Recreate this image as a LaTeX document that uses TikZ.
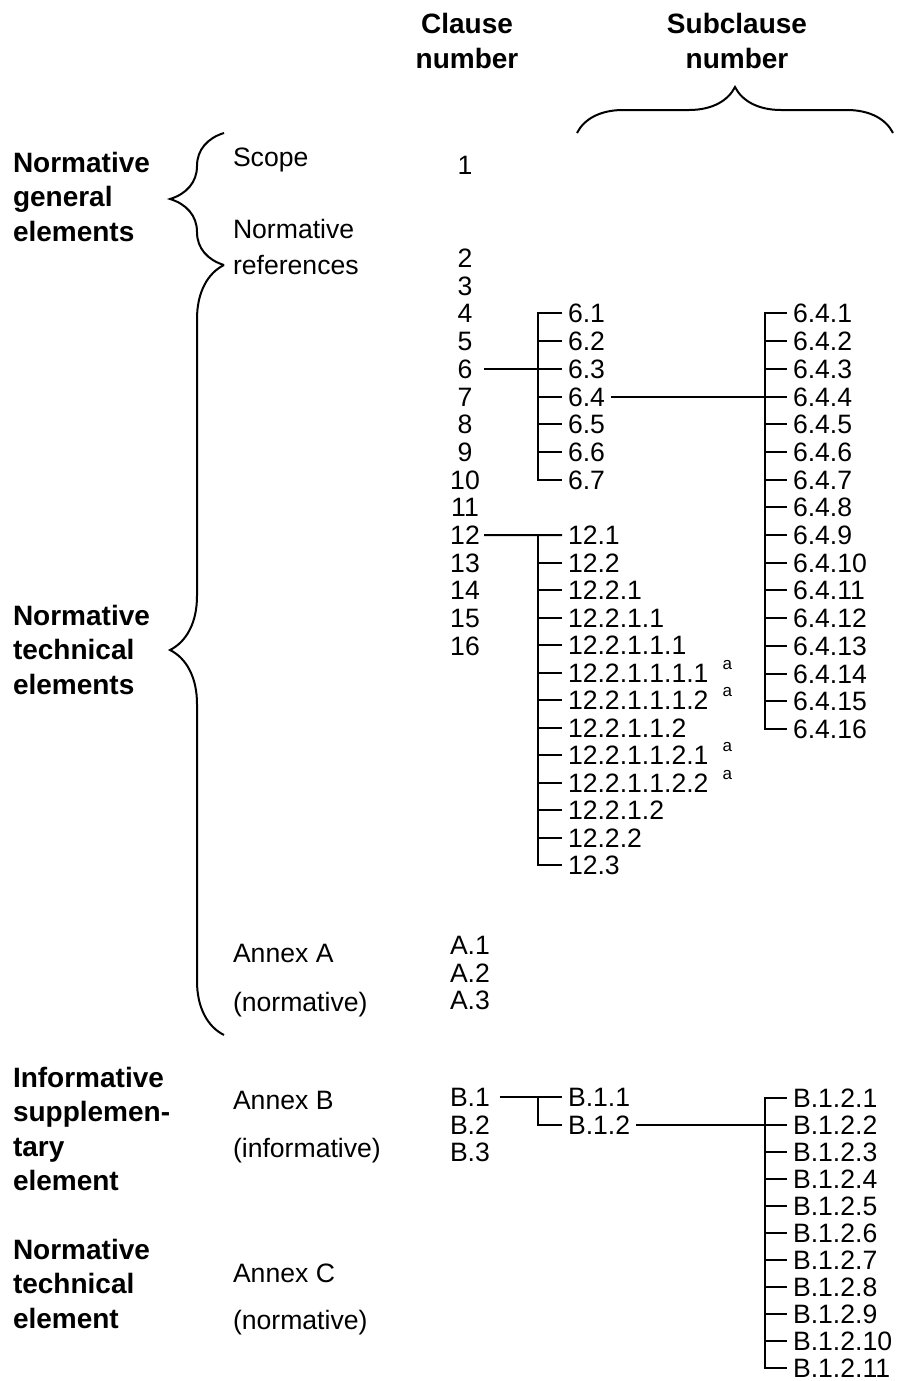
\documentclass[tikz,border=0pt]{standalone}
\usepackage{fontspec}
\setmainfont{Liberation Sans}
\usetikzlibrary{decorations.pathreplacing,positioning}

\begin{document}
\begin{tikzpicture}[x=0.5pt,y=0.5pt,line width=1pt,
num/.style={inner xsep=2.5pt,inner ysep=0pt,text height=9.5pt,text depth=0pt,font=\fontsize{13.3}{16}\selectfont},
clause/.style={num,inner xsep=0pt,minimum width=18pt},
annexnum/.style={num,anchor=west,inner xsep=2pt},
sub/.style={num,anchor=west},
lbl/.style={num,inner xsep=0pt,anchor=west},
reftxt/.style={inner sep=0pt,anchor=north west,align=left,font=\fontsize{13.3}{18}\selectfont},
head/.style={inner sep=0pt,anchor=north,align=center,font=\fontsize{14}{17.5}\selectfont\bfseries},
group/.style={inner sep=0pt,anchor=north west,align=left,font=\fontsize{14}{17.25}\selectfont\bfseries},
supa/.style={inner sep=0pt,anchor=north west,xshift=3.5pt,yshift=1.5pt,font=\fontsize{8.5}{9}\selectfont},
brc/.style={decorate,decoration={brace,amplitude=#1},line width=1pt}
]
\useasboundingbox (0,0) rectangle (898,-1381);
% headings
\node[head] (hclause) at (467,-12) {Clause\\number};
\node[head] (hsub) at (737,-12) {Subclause\\number};
% element groups
\node[group] (gnormgen) at (12,-151) {Normative\\general\\elements};
\node[group] (gnormtech) at (12,-604) {Normative\\technical\\elements};
\node[group] (ginfo) at (12,-1066) {Informative\\supplemen-\\tary\\element};
\node[group] (gnormtechc) at (12,-1238) {Normative\\technical\\element};
\node[lbl] (scope) at (232,-157) {Scope};
\node[reftxt] (normref) at (232,-218) {Normative\\references};
\node[lbl] (annexa) at (232,-953) {Annex A};
\node[lbl] (annexan) at (232,-1002) {(normative)};
\node[lbl] (annexb) at (232,-1100) {Annex B};
\node[lbl] (annexbi) at (232,-1148) {(informative)};
\node[lbl] (annexc) at (232,-1273) {Annex C};
\node[lbl] (annexcn) at (232,-1320) {(normative)};
% clause numbers
\node[clause] (c1) at (465,-165) {1};
\foreach \n in {2,...,16}
  \node[clause] (c\n) at (465,{-258-27.7*(\n-2)}) {\n};
\foreach \n in {1,2,3}
  \node[annexnum] (a\n) at (445,{-945-27.5*(\n-1)}) {A.\n};
\foreach \n in {1,2,3}
  \node[annexnum] (b\n) at (445,{-1097-27.5*(\n-1)}) {B.\n};
% subclauses
\foreach \k in {1,...,7}
  \node[sub] (s6x\k) at (562,{-368.8-27.7*(\k-3)}) {6.\k};
\foreach \j in {1,...,16}
  \node[sub] (s64x\j) at (787,{-396.5-27.7*(\j-4)}) {6.4.\j};
\foreach \t [count=\k] in {12.1,12.2,12.2.1,12.2.1.1,12.2.1.1.1,12.2.1.1.1.1,12.2.1.1.1.2,12.2.1.1.2,12.2.1.1.2.1,12.2.1.1.2.2,12.2.1.2,12.2.2,12.3}
  \node[sub] (s12x\k) at (562,{-535-27.5*(\k-1)}) {\t};
\foreach \k in {6,7,9,10}
  \node[supa] (fn\k) at (s12x\k.north east) {a};
\foreach \k in {1,2}
  \node[sub] (b1x\k) at (562,{-1097-27.5*(\k-1)}) {B.1.\k};
\foreach \j in {1,...,11}
  \node[sub] (b12x\j) at (787,{-1124.5-27*(\j-2)}) {B.1.2.\j};
% connectors
\coordinate (busa) at (538,0);
\coordinate (busb) at (765,0);
\draw (c6.east) -- (s6x3.west);
\draw (s6x1.west) -- (s6x1.west -| busa) -- (s6x7.west -| busa) -- (s6x7.west);
\foreach \k in {2,...,6} \draw (s6x\k.west -| busa) -- (s6x\k.west);
\draw (s6x4.east) -- (s64x4.west);
\draw (s64x1.west) -- (s64x1.west -| busb) -- (s64x16.west -| busb) -- (s64x16.west);
\foreach \j in {2,...,15} \draw (s64x\j.west -| busb) -- (s64x\j.west);
\draw (c12.east) -- (s12x1.west);
\draw (s12x1.west -| busa) -- (s12x13.west -| busa) -- (s12x13.west);
\foreach \k in {2,...,12} \draw (s12x\k.west -| busa) -- (s12x\k.west);
\draw[shorten <=2.5pt] (b1.east) -- (b1x1.west);
\draw (b1x1.west -| busa) -- (b1x2.west -| busa) -- (b1x2.west);
\draw (b1x2.east) -- (b12x2.west);
\draw (b12x1.west) -- (b12x1.west -| busb) -- (b12x11.west -| busb) -- (b12x11.west);
\foreach \j in {3,...,10} \draw (b12x\j.west -| busb) -- (b12x\j.west);
% braces
\coordinate (brtop) at (224,-133);
\coordinate (brmid) at (224,-265);
\coordinate (brbot) at (224,-1035);
\coordinate (brsubl) at (577,-133);
\coordinate (brsubr) at (893,-133);
\draw[brc=27pt] (brmid) -- (brtop);
\draw[brc=27pt] (brbot) -- (brmid);
\draw[brc=23pt] (brsubl) -- (brsubr);
\end{tikzpicture}
\end{document}
